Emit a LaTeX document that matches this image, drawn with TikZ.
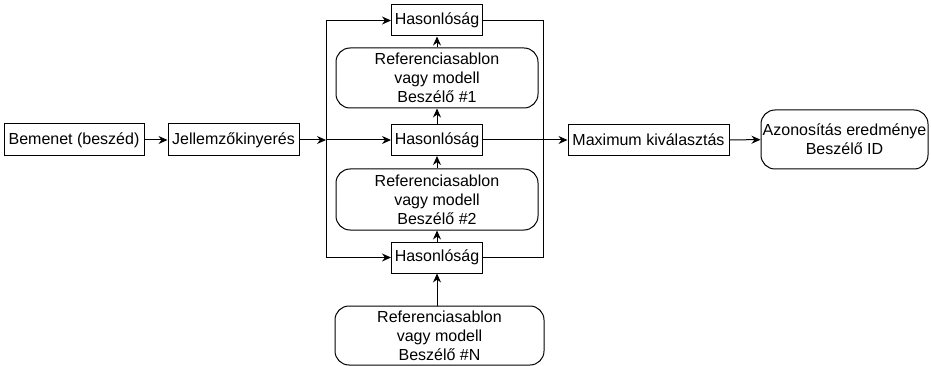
\documentclass[tikz,border=0pt]{standalone}
\usepackage{fontspec}
\setmainfont{Liberation Sans}
\usetikzlibrary{arrows.meta}

\begin{document}
\begin{tikzpicture}[x=1pt, y=-1pt, line width=1pt,
  every node/.style={font=\fontsize{16}{19}\selectfont, inner sep=0pt, align=center},
  blockbox/.style={draw, rectangle},
  modelbox/.style={draw, rounded corners=14pt},
  arr/.style={-{Stealth[length=9pt, width=8pt]}}]
  \useasboundingbox (0,0) rectangle (931,366);
  % --- bemenet es jellemzok ---
  \node[blockbox, minimum width=140pt, minimum height=32pt] (input) at (74,140) {Bemenet (beszéd)};
  \node[blockbox, minimum width=131pt, minimum height=32pt] (feat) at (233.5,140) {Jellemzőkinyerés};
  % --- hasonlosag es modellek ---
  \node[blockbox, minimum width=91pt, minimum height=31pt] (sim1) at (437,20.5) {Hasonlóság};
  \node[modelbox, minimum width=202pt, minimum height=60pt] (ref1) at (437,78) {Referenciasablon\\vagy modell\\Beszélő \#1};
  \node[blockbox, minimum width=91pt, minimum height=31pt] (sim2) at (437,140) {Hasonlóság};
  \node[modelbox, minimum width=202pt, minimum height=61pt] (ref2) at (437,199.5) {Referenciasablon\\vagy modell\\Beszélő \#2};
  \node[blockbox, minimum width=91pt, minimum height=31pt] (sim3) at (437,257.5) {Hasonlóság};
  \node[modelbox, minimum width=209pt, minimum height=59pt] (refN) at (439.5,335.5) {Referenciasablon\\vagy modell\\Beszélő \#N};
  % --- kimenet ---
  \node[blockbox, minimum width=161pt, minimum height=31pt] (max) at (648.5,140) {Maximum kiválasztás};
  \node[modelbox, minimum width=167pt, minimum height=59pt] (out) at (844.5,139.5) {Azonosítás eredménye\\Beszélő ID};
  \coordinate (lbus) at (326,140);
  \coordinate (rbus) at (543,140);

  % --- osszekotesek ---
  \draw[arr] (input) -- (feat);
  \draw[arr] (feat) -- (lbus);
  \draw[arr] (lbus) |- (sim1);
  \draw[arr] (lbus) -- (sim2);
  \draw[arr] (lbus) |- (sim3);
  \draw (sim1) -| (rbus);
  \draw (sim3) -| (rbus);
  \draw[arr] (sim2) -- (max);
  \draw[arr] (max) -- (out);
  \draw[arr] (ref1) -- (sim1);
  \draw[arr] (sim2) -- (ref1);
  \draw[arr] (ref2) -- (sim2);
  \draw[arr] (sim3) -- (ref2);
  \draw[arr] (sim3 |- refN.north) -- (sim3);
\end{tikzpicture}
\end{document}
